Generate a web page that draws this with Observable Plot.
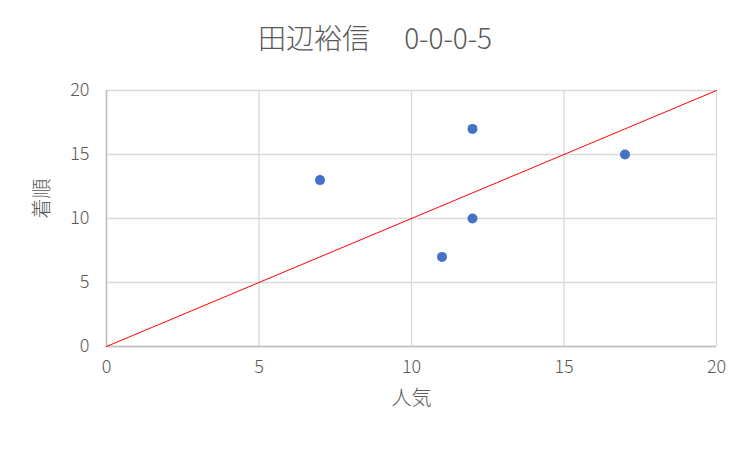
<!DOCTYPE html>
<html>
<head>
<meta charset="utf-8">
<script src="https://cdn.jsdelivr.net/npm/d3@7"></script>
<script src="https://cdn.jsdelivr.net/npm/@observablehq/plot@0.6"></script>
<style>
  html, body { margin: 0; padding: 0; background: #fff; }
  #title { height: 70px; width: 750px; text-align: center; font-family: "Noto Sans CJK JP", sans-serif; font-size: 28px; font-weight: 300; color: #595959; line-height: 74px; white-space: pre; }
  svg { display: block; }
</style>
</head>
<body>
<div id="title"></div>
<div id="chart"></div>
<script>
const titleText = "田辺裕信　 0-0-0-5";
const popularity = [7, 12, 12, 11, 17];
const finish = [13, 17, 10, 7, 15];
const xTicks = [0, 5, 10, 15, 20];
const yTicks = [0, 5, 10, 15, 20];
const refLine = [0, 20];
const xLabel = "人気";
const yLabel = "着順";

document.getElementById("title").textContent = titleText;
const pts = popularity.map((p, i) => ({x: p, y: finish[i]}));
const line = refLine.map(v => ({x: v, y: v}));

const font = "'Noto Sans CJK JP', sans-serif";
const chart = Plot.plot({
  width: 750,
  height: 380,
  marginLeft: 106,
  marginRight: 34,
  marginTop: 20,
  marginBottom: 104,
  style: {fontFamily: font, fontSize: "18px", fontWeight: 300, color: "#595959", background: "#fff"},
  x: {domain: [0, 20], ticks: xTicks, label: null},
  y: {domain: [0, 20], ticks: yTicks, label: null},
  marks: [
    Plot.gridX(xTicks, {stroke: "#d9d9d9", strokeOpacity: 1, strokeWidth: 1.3}),
    Plot.gridY(yTicks, {stroke: "#d9d9d9", strokeOpacity: 1, strokeWidth: 1.3}),
    Plot.ruleX([0], {stroke: "#bfbfbf", strokeWidth: 1.5}),
    Plot.ruleY([0], {stroke: "#bfbfbf", strokeWidth: 1.5}),
    Plot.axisX(xTicks, {tickSize: 0, tickPadding: 14, fill: "#595959", fontSize: 18, label: null}),
    Plot.axisY(yTicks, {tickSize: 0, tickPadding: 17, fill: "#595959", fontSize: 18, label: null}),
    Plot.line(line, {x: "x", y: "y", stroke: "#ff0000", strokeWidth: 1}),
    Plot.dot(pts, {x: "x", y: "y", r: 5, fill: "#4472c4", stroke: "none"}),
    Plot.text([xLabel], {frameAnchor: "bottom", dy: 58, fill: "#595959", fontSize: 20, fontFamily: font}),
    Plot.text([yLabel], {frameAnchor: "left", dx: -64, rotate: -90, fill: "#595959", fontSize: 20, fontFamily: font})
  ]
});
document.getElementById("chart").appendChild(chart);
</script>
</body>
</html>
